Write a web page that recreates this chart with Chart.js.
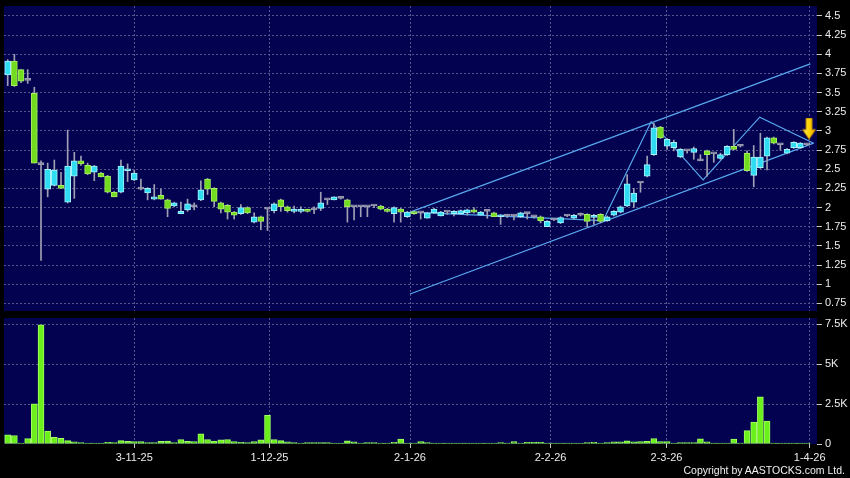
<!DOCTYPE html>
<html>
<head>
<meta charset="utf-8">
<script src="https://cdn.jsdelivr.net/npm/chart.js@4.4.1/dist/chart.umd.min.js"></script>
<style>
  html, body { margin: 0; padding: 0; background: #000; }
  #wrap { position: relative; width: 850px; height: 478px; overflow: hidden; background: #000; }
  #priceChart { position: absolute; left: 0; top: 0; }
  #volChart { position: absolute; left: 0; top: 316px; }
  #copy { position: absolute; right: 5px; top: 464px; color: #f0f0f0; font: 10.5px "Liberation Sans", Arial, sans-serif; }
</style>
</head>
<body>
<div id="wrap">
  <canvas id="priceChart" width="850" height="316"></canvas>
  <canvas id="volChart" width="850" height="162"></canvas>
  <div id="copy">Copyright by AASTOCKS.com Ltd.</div>
</div>
<script>
// daily candles, one per trading day (index 0 = first bar on the left)
const opens = [3.73, 3.91, 3.80, 3.66, 3.49, 2.56, 2.24, 2.29, 2.29, 2.07,
  2.41, 2.61, 2.55, 2.46, 2.45, 2.41, 2.20, 2.20, 2.48, 2.36,
  2.24, 2.19, 2.11, 2.16, 2.10, 2.02, 1.92, 1.97, 2.01, 2.10,
  2.37, 2.25, 2.06, 2.03, 1.94, 1.92, 2.00, 1.81, 1.88, 1.98,
  1.96, 2.10, 2.01, 1.95, 1.95, 1.97, 1.97, 1.99, 2.10, 2.10,
  2.12, 2.10, 2.01, 2.01, 2.01, 2.02, 2.02, 1.98, 1.92, 1.98,
  1.88, 1.94, 1.93, 1.86, 1.93, 1.89, 1.94, 1.92, 1.92, 1.93,
  1.97, 1.90, 1.95, 1.93, 1.88, 1.89, 1.89, 1.88, 1.92, 1.88,
  1.88, 1.75, 1.84, 1.80, 1.89, 1.86, 1.90, 1.91, 1.87, 1.91,
  1.83, 1.90, 1.94, 2.02, 2.07, 2.32, 2.41, 2.69, 3.05, 2.80,
  2.78, 2.66, 2.74, 2.72, 2.61, 2.74, 2.70, 2.64, 2.69, 2.80,
  2.80, 2.71, 2.42, 2.52, 2.67, 2.91, 2.82, 2.71, 2.78, 2.78,
  2.82];
const highs = [3.93, 4.00, 3.80, 3.80, 3.57, 2.61, 2.58, 2.62, 2.46, 3.01,
  2.72, 2.67, 2.58, 2.55, 2.46, 2.42, 2.21, 2.62, 2.57, 2.49,
  2.37, 2.26, 2.30, 2.24, 2.11, 2.07, 2.07, 2.11, 2.06, 2.35,
  2.38, 2.26, 2.07, 2.04, 1.95, 2.04, 2.01, 1.93, 1.89, 1.99,
  2.06, 2.11, 2.02, 2.02, 2.01, 1.98, 2.01, 2.20, 2.11, 2.14,
  2.13, 2.11, 2.01, 2.01, 2.01, 2.03, 2.03, 1.99, 2.01, 1.99,
  1.95, 1.95, 1.94, 1.94, 1.99, 1.95, 1.95, 1.96, 1.97, 1.98,
  2.00, 1.95, 1.96, 1.94, 1.91, 1.91, 1.90, 1.94, 1.93, 1.89,
  1.89, 1.83, 1.85, 1.88, 1.90, 1.91, 1.93, 1.92, 1.91, 1.92,
  1.89, 1.96, 2.02, 2.43, 2.25, 2.33, 2.67, 3.10, 3.06, 2.90,
  2.88, 2.77, 2.75, 2.79, 2.69, 2.75, 2.71, 2.71, 2.81, 3.02,
  2.81, 2.74, 2.81, 2.97, 2.92, 2.92, 2.83, 2.77, 2.86, 2.85,
  2.83];
const lows = [3.59, 3.58, 3.63, 3.62, 2.58, 1.31, 2.14, 2.28, 2.25, 2.06,
  2.12, 2.55, 2.43, 2.35, 2.40, 2.19, 2.14, 2.19, 2.34, 2.35,
  2.23, 2.10, 2.10, 2.11, 1.88, 2.01, 1.92, 1.95, 1.97, 2.09,
  2.17, 2.01, 1.93, 1.85, 1.85, 1.91, 1.92, 1.80, 1.71, 1.70,
  1.93, 1.95, 1.94, 1.93, 1.93, 1.94, 1.92, 1.96, 2.04, 2.10,
  2.11, 1.81, 1.84, 1.88, 1.88, 2.00, 1.97, 1.94, 1.81, 1.81,
  1.87, 1.91, 1.85, 1.86, 1.92, 1.89, 1.91, 1.89, 1.91, 1.90,
  1.93, 1.90, 1.86, 1.88, 1.78, 1.87, 1.84, 1.87, 1.85, 1.86,
  1.80, 1.75, 1.83, 1.79, 1.88, 1.85, 1.89, 1.75, 1.78, 1.80,
  1.82, 1.89, 1.93, 2.01, 2.00, 2.20, 2.40, 2.68, 2.90, 2.76,
  2.74, 2.65, 2.71, 2.63, 2.61, 2.41, 2.59, 2.63, 2.68, 2.75,
  2.79, 2.47, 2.27, 2.51, 2.49, 2.83, 2.75, 2.70, 2.77, 2.77,
  2.81];
const closes = [3.91, 3.59, 3.65, 3.66, 2.58, 2.56, 2.50, 2.49, 2.25, 2.54,
  2.61, 2.57, 2.44, 2.54, 2.40, 2.20, 2.14, 2.54, 2.50, 2.45,
  2.24, 2.25, 2.14, 2.11, 1.99, 2.06, 1.95, 2.05, 2.01, 2.23,
  2.24, 2.08, 1.98, 1.94, 1.90, 2.00, 1.93, 1.88, 1.82, 1.98,
  2.05, 2.01, 1.96, 1.98, 1.97, 1.95, 1.97, 2.06, 2.10, 2.14,
  2.12, 2.01, 2.01, 2.01, 2.01, 2.02, 1.98, 1.95, 2.00, 1.94,
  1.94, 1.92, 1.93, 1.93, 1.98, 1.94, 1.94, 1.95, 1.96, 1.97,
  1.94, 1.94, 1.95, 1.88, 1.90, 1.89, 1.89, 1.93, 1.92, 1.88,
  1.83, 1.82, 1.84, 1.87, 1.89, 1.90, 1.90, 1.82, 1.90, 1.82,
  1.88, 1.95, 2.01, 2.31, 2.19, 2.32, 2.56, 3.04, 2.91, 2.89,
  2.85, 2.76, 2.74, 2.77, 2.61, 2.69, 2.70, 2.69, 2.80, 2.76,
  2.80, 2.48, 2.66, 2.66, 2.91, 2.84, 2.82, 2.76, 2.85, 2.84,
  2.82];
const volumes = [577, 532, 64, 340, 2519, 7450, 808, 423, 359, 212,
  128, 85, 40, 40, 40, 107, 85, 212, 170, 150,
  150, 85, 85, 170, 190, 85, 280, 170, 150, 641,
  280, 190, 260, 280, 150, 107, 85, 150, 260, 1795,
  280, 212, 128, 85, 40, 86, 86, 86, 86, 43,
  43, 193, 128, 43, 86, 86, 10, 10, 107, 300,
  10, 43, 150, 86, 43, 10, 10, 43, 10, 43,
  10, 43, 43, 43, 86, 43, 150, 43, 107, 107,
  107, 10, 21, 21, 43, 43, 10, 86, 107, 64,
  86, 128, 128, 193, 128, 150, 171, 342, 150, 150,
  43, 86, 86, 86, 321, 128, 64, 64, 43, 300,
  43, 833, 1368, 2950, 1432, 15, 21, 21, 21, 43,
  64];

// date ticks (position in bar index units) and their labels
const tickPos = [19, 39.3, 60.4, 81.5, 98.9, 120.4];
const tickLabels = ['3-11-25', '1-12-25', '2-1-26', '2-2-26', '2-3-26', '1-4-26'];
const priceTicks = [0.75, 1, 1.25, 1.5, 1.75, 2, 2.25, 2.5, 2.75, 3, 3.25, 3.5, 3.75, 4, 4.25, 4.5];
const volTicks = [0, 2500, 5000, 7500];
const volTickLabels = ['0', '2.5K', '5K', '7.5K'];

// drawn trend lines: [bar index, price]
const channelUpper = [[60.4, 1.94], [120.5, 3.875]];
const channelLower = [[60.4, 0.872], [121.0, 2.84]];
const baseLine = [[60.4, 1.94], [89.4, 1.83]];
const zigzag = [[89.4, 1.83], [96.6, 3.12], [104.4, 2.36], [112.9, 3.18], [121.0, 2.84]];
const arrowAt = [120.3, 3.03];

const X_MIN = -0.556, X_MAX = 121.5;
const NAVY = '#020250';
const GRID = '#55558c';
const TEXT = '#ececec';
const FONT = { family: '"Liberation Sans", Arial, sans-serif', size: 11 };

const plotBg = {
  id: 'plotBg',
  beforeDraw(chart) {
    const { ctx, chartArea: a } = chart;
    ctx.save();
    ctx.fillStyle = NAVY;
    ctx.fillRect(a.left, a.top, a.right - a.left, a.bottom - a.top);
    ctx.restore();
  }
};

// keep the plot box fixed: no extra room for half-labels at the ends
const noPad = s => { s.paddingTop = 0; s.paddingBottom = 0; s.paddingLeft = 0; s.paddingRight = 0; };

const idx = opens.map((_, i) => i);
const kind = i => closes[i] > opens[i] ? 'up' : (closes[i] < opens[i] ? 'down' : 'flat');
const bodyFill = { up: '#2fdcf2', down: '#72dc1e', flat: '#9a9aae' };
const bodyEdge = { up: '#a6f2ff', down: '#a8ee62', flat: '#9a9aae' };

const toXY = pts => pts.map(([x, y]) => ({ x, y }));
const trend = (pts) => ({
  type: 'line', data: toXY(pts), borderColor: '#58a8ee', borderWidth: 1.2,
  pointRadius: 0, fill: false, order: 3
});

// yellow arrow marker
const arrowImg = document.createElement('canvas');
arrowImg.width = 14; arrowImg.height = 22;
(() => {
  const a = arrowImg.getContext('2d');
  const g = a.createLinearGradient(0, 0, 14, 0);
  g.addColorStop(0, '#fff07a');
  g.addColorStop(0.5, '#ffd400');
  g.addColorStop(1, '#e8a200');
  a.fillStyle = g;
  a.beginPath();
  a.moveTo(4, 0.5); a.lineTo(10, 0.5); a.lineTo(10, 12); a.lineTo(13.5, 12);
  a.lineTo(7, 21.5); a.lineTo(0.5, 12); a.lineTo(4, 12); a.closePath();
  a.fill();
  a.strokeStyle = '#b88000'; a.lineWidth = 1; a.stroke();
})();

const xAxis = (showLabels) => ({
  type: 'linear', min: X_MIN, max: X_MAX, offset: false,
  afterBuildTicks: s => { s.ticks = tickPos.map(v => ({ value: v })); },
  afterFit: s => { s.height = showLabels ? 34 : 0; noPad(s); },
  ticks: {
    display: showLabels, color: TEXT, font: FONT, autoSkip: false, maxRotation: 0, padding: 3,
    callback: (v, i) => tickLabels[i]
  },
  grid: { offset: false, color: GRID, drawTicks: showLabels, tickColor: '#c8c8c8', tickLength: 4 },
  border: { display: false, dash: [2, 2] }
});

new Chart(document.getElementById('priceChart'), {
  type: 'bar',
  data: {
    datasets: [
      {
        type: 'line', data: [{ x: arrowAt[0], y: arrowAt[1] }], showLine: false,
        pointStyle: arrowImg, pointRadius: 10, order: 0
      },
      {
        data: idx.map(i => ({ x: i, y: [opens[i], closes[i]] })),
        backgroundColor: idx.map(i => bodyFill[kind(i)]),
        borderColor: idx.map(i => bodyEdge[kind(i)]),
        borderWidth: 1, borderSkipped: false, barThickness: 6, minBarLength: 2,
        grouped: false, order: 1
      },
      {
        data: idx.map(i => ({ x: i, y: [lows[i], highs[i]] })),
        backgroundColor: '#a0a0b4', borderWidth: 0, barThickness: 1,
        grouped: false, order: 2
      },
      trend(channelUpper),
      trend(channelLower),
      trend(baseLine),
      trend(zigzag)
    ]
  },
  options: {
    responsive: false,
    animation: false,
    events: [],
    layout: { autoPadding: false, padding: { left: 4, top: 6, bottom: 5, right: 0 } },
    plugins: { legend: { display: false }, tooltip: { enabled: false } },
    scales: {
      x: xAxis(false),
      y: {
        position: 'right', min: 0.65, max: 4.63,
        afterBuildTicks: s => { s.ticks = priceTicks.map(v => ({ value: v })); },
        afterFit: s => { s.width = 33; noPad(s); },
        ticks: { color: TEXT, font: FONT, padding: 3, callback: v => String(v) },
        grid: { color: GRID, tickColor: '#c8c8c8', tickLength: 5 },
        border: { display: false, dash: [2, 2] }
      }
    }
  },
  plugins: [plotBg]
});

new Chart(document.getElementById('volChart'), {
  type: 'bar',
  data: {
    datasets: [{
      data: idx.map(i => ({ x: i, y: volumes[i] })),
      backgroundColor: '#6cf01c', borderColor: '#a4ff64',
      borderWidth: 1, borderSkipped: false, barThickness: 6, minBarLength: 1
    }]
  },
  options: {
    responsive: false,
    animation: false,
    events: [],
    layout: { autoPadding: false, padding: { left: 4, top: 2, bottom: 0, right: 0 } },
    plugins: { legend: { display: false }, tooltip: { enabled: false } },
    scales: {
      x: xAxis(true),
      y: {
        position: 'right', min: 0, max: 7880,
        afterBuildTicks: s => { s.ticks = volTicks.map(v => ({ value: v })); },
        afterFit: s => { s.width = 33; noPad(s); },
        ticks: { color: TEXT, font: FONT, padding: 3, callback: (v, i) => volTickLabels[i] },
        grid: {
          color: c => (c.tick && c.tick.value === 0) ? 'rgba(0,0,0,0)' : GRID,
          tickColor: '#c8c8c8', tickLength: 5
        },
        border: { display: false, dash: [2, 2] }
      }
    }
  },
  plugins: [plotBg]
});
</script>
</body>
</html>
